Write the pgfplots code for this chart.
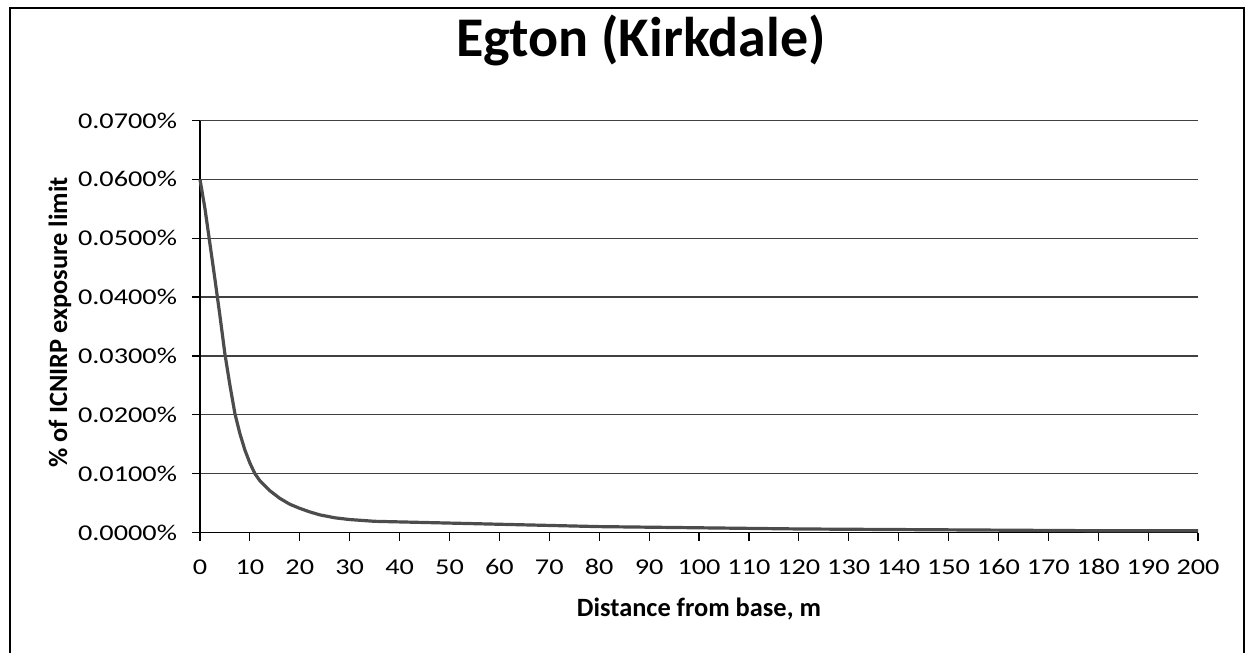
\documentclass[border=0pt]{standalone}
\usepackage{fontspec}
\setmainfont{Carlito}
\newfontfamily\tickfont[FakeStretch=1.25]{Carlito}
\usepackage{pgfplots}
\pgfplotsset{compat=1.18}
\begin{document}
\begin{tikzpicture}
\useasboundingbox (-100bp,-60.25bp) rectangle (523bp,266.25bp);
\draw[line width=1bp] (-95bp,-62bp) -- (-95bp,262.25bp) -- (522bp,262.25bp) -- (522bp,-62bp);
\begin{axis}[
  at={(0,0)}, anchor=south west,
  scale only axis, width=499bp, height=206bp,
  xmin=0, xmax=200, ymin=0, ymax=0.07,
  axis x line=bottom, axis y line=left,
  axis line style={-, black, line width=0.8bp},
  xtick={0,10,20,30,40,50,60,70,80,90,100,110,120,130,140,150,160,170,180,190,200},
  ytick={0,0.01,0.02,0.03,0.04,0.05,0.06,0.07},
  yticklabels={0.0000\%,0.0100\%,0.0200\%,0.0300\%,0.0400\%,0.0500\%,0.0600\%,0.0700\%},
  scaled y ticks=false,
  /pgf/number format/assume math mode=true,
  ymajorgrids, major grid style={black!75, line width=0.6bp},
  tick align=outside, major tick length=4bp,
  tick style={black, line width=0.6bp},
  ticklabel style={font=\tickfont\fontsize{11.3bp}{13bp}\selectfont},
  xticklabel style={yshift=-6bp},
  yticklabel style={xshift=-4bp},
  xlabel={Distance from base, m},
  ylabel={\% of ICNIRP exposure limit},
  label style={font=\bfseries\fontsize{13.2bp}{15bp}\selectfont},
  xlabel style={at={(axis description cs:0.5,0)}, anchor=base, yshift=-41.75bp},
  ylabel style={at={(axis description cs:-0.1403,0.51)}, anchor=center},
  clip=false,
]
\addplot[black!70, line width=1.6bp] coordinates {
(0,0.0600) (0.5,0.0575) (1,0.0550) (1.5,0.0520) (2,0.0490) (3,0.0430)
(4,0.0368) (5,0.0303) (6,0.0250) (7,0.0202) (8,0.0168) (9,0.0140)
(10,0.0118) (11,0.0100) (12,0.0088) (14,0.0071) (16,0.0058) (18,0.0048)
(20,0.0041) (22,0.0035) (24,0.0030) (27,0.0025) (30,0.0022) (35,0.0019)
(40,0.0018) (45,0.0017) (50,0.0016) (55,0.0015) (60,0.0014) (70,0.0012)
(80,0.0010) (90,0.0009) (100,0.0008) (110,0.0007) (120,0.0006) (140,0.0005)
(160,0.0004) (180,0.0003) (200,0.0003)
};
\end{axis}
\node[font=\bfseries\fontsize{28bp}{31bp}\selectfont, anchor=base] at (220.5bp,237.75bp) {Egton (Kirkdale)};
\end{tikzpicture}
\end{document}
